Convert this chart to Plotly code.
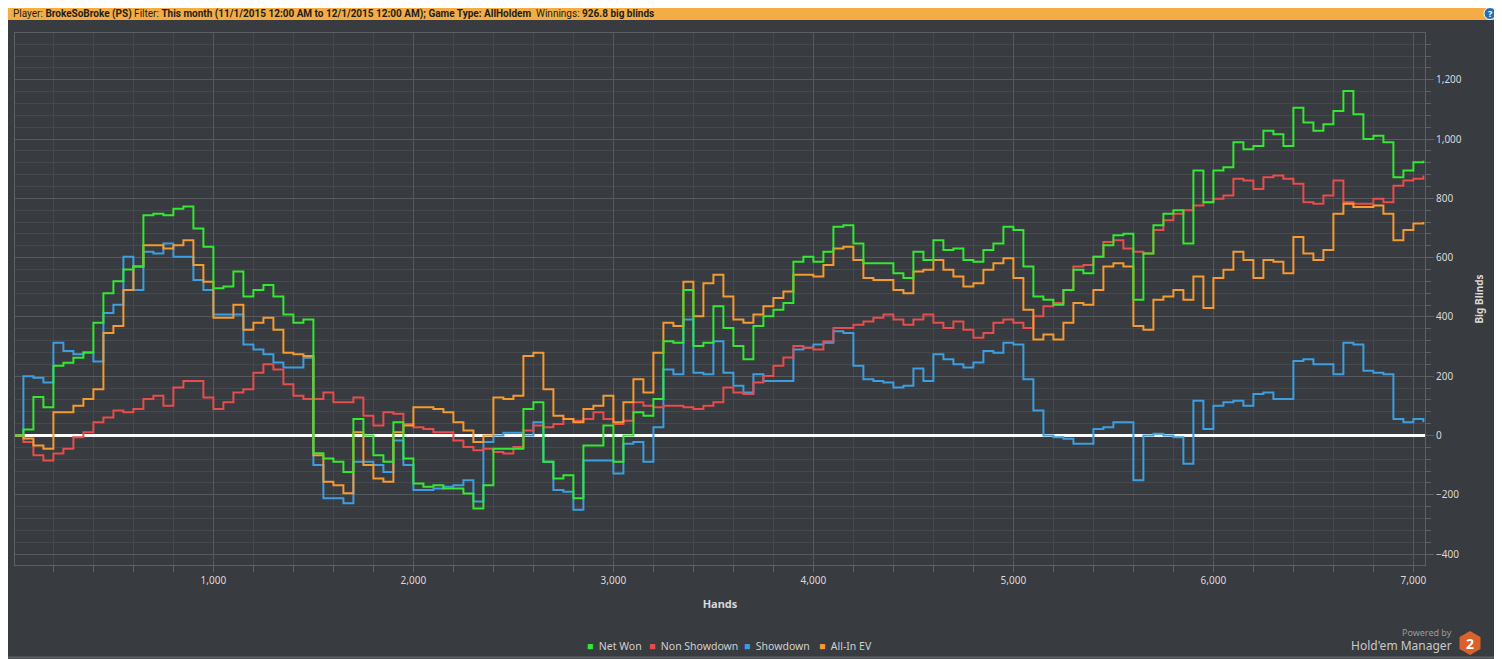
import plotly.graph_objects as go

# hands sampled every 50 hands
hands = list(range(0, 7051, 50))

net_won = [
    0, 20, 130, 95, 235, 245, 262, 280, 380, 480,
    520, 560, 570, 743, 748, 743, 765, 773, 698, 637,
    497, 503, 553, 469, 491, 508, 469, 408, 380, 391,
    -60, -78, -89, -123, 56, 0, -67, -89, 45, -78,
    -162, -173, -168, -179, -179, -196, -246, -168, -45, -45,
    -45, 89, 112, -89, -145, -134, -212, -34, -34, 34,
    -89, 0, 78, 67, 123, 318, 313, 491, 302, 313,
    436, 363, 302, 257, 369, 402, 424, 447, 586, 603,
    586, 620, 704, 709, 648, 581, 581, 581, 547, 531,
    620, 592, 659, 626, 631, 592, 586, 626, 648, 704,
    693, 570, 469, 458, 441, 491, 559, 547, 603, 642,
    676, 681, 458, 614, 709, 748, 760, 648, 894, 787,
    894, 905, 989, 966, 977, 1028, 1016, 977, 1106, 1056,
    1028, 1050, 1095, 1162, 1084, 1000, 1011, 989, 871, 894,
    922, 927,
]

non_showdown = [
    0, -22, -67, -84, -61, -45, -6, 11, 45, 61,
    84, 78, 89, 123, 134, 100, 162, 184, 184, 128,
    89, 112, 145, 156, 212, 240, 223, 173, 134, 123,
    123, 145, 112, 112, 128, 67, 34, 78, 73, 39,
    28, 22, 11, 11, -17, -39, -50, -45, -56, -61,
    -39, 17, 34, 28, 39, 56, 50, 56, 78, 56,
    39, 50, 112, 100, 95, 100, 100, 95, 89, 100,
    112, 162, 145, 140, 179, 201, 235, 263, 302, 296,
    290, 318, 363, 363, 374, 385, 397, 408, 391, 374,
    391, 408, 380, 363, 385, 357, 330, 346, 380, 391,
    380, 363, 402, 436, 447, 491, 570, 575, 603, 653,
    659, 631, 620, 614, 693, 726, 748, 760, 776, 787,
    799, 810, 866, 860, 832, 871, 877, 866, 849, 787,
    782, 810, 860, 787, 782, 782, 799, 787, 843, 860,
    866, 877,
]

showdown = [
    0, 200, 195, 179, 313, 285, 274, 280, 250, 413,
    441, 603, 491, 620, 614, 648, 603, 603, 525, 491,
    408, 408, 408, 307, 290, 274, 246, 229, 229, 262,
    -100, -212, -212, -229, -89, -89, -100, -123, -17, -100,
    -184, -184, -179, -173, -168, -151, -223, -22, 0, 9,
    9, 0, 45, -89, -184, -190, -251, -84, -84, -84,
    -128, -28, -22, -89, 28, 223, 207, 391, 212, 207,
    318, 212, 168, 145, 207, 184, 184, 184, 290, 296,
    307, 313, 352, 346, 235, 190, 184, 179, 162, 168,
    226, 184, 274, 257, 240, 229, 246, 285, 279, 313,
    307, 190, 84, 0, -6, -11, -28, -28, 22, 28,
    45, 45, -151, 0, 6, 0, -6, -95, 117, 22,
    100, 112, 117, 100, 140, 145, 123, 123, 251, 257,
    240, 240, 207, 313, 307, 218, 212, 207, 56, 45,
    56, 45,
]

all_in_ev = [
    0, -10, -34, -45, 78, 78, 100, 123, 156, 346,
    369, 491, 570, 642, 642, 631, 642, 659, 575, 519,
    397, 397, 441, 357, 380, 397, 357, 279, 274, 268,
    -67, -156, -168, -195, 11, -100, -145, -156, 11, 34,
    95, 95, 89, 78, 45, 17, -22, 0, 128, 123,
    134, 268, 279, 156, 67, 56, 45, 89, 100, 134,
    45, 112, 190, 145, 279, 380, 369, 519, 402, 514,
    542, 469, 391, 380, 408, 436, 464, 486, 542, 542,
    536, 575, 631, 637, 592, 531, 525, 525, 491, 480,
    553, 559, 592, 559, 536, 503, 514, 559, 581, 598,
    531, 424, 324, 341, 324, 380, 447, 441, 491, 570,
    581, 570, 369, 357, 458, 469, 491, 458, 536, 430,
    531, 559, 620, 592, 531, 592, 586, 547, 670, 614,
    592, 626, 748, 782, 771, 771, 776, 748, 659, 693,
    715, 720,
]

series = [
    ("Net Won", net_won, "#33e833"),
    ("Non Showdown", non_showdown, "#e84c4c"),
    ("Showdown", showdown, "#3c9ee0"),
    ("All-In EV", all_in_ev, "#f39a30"),
]

# the page puts the figure 8px in from the top-left corner
OFF = 8
W, H = 1502 - OFF, 659 - OFF
L, R, T, B = 15 - OFF, 77, 33 - OFF, 94
BG = "#383b3f"
pw, ph = W - L - R, H - T - B


# positions below are screen pixels of the reference
def px(x):
    return (x - OFF - L) / pw


def py(y):
    return (H - B - (y - OFF)) / ph


fig = go.Figure()

# draw order: blue, red, orange, green on top
for idx in [2, 1, 3, 0]:
    name, vals, col = series[idx]
    fig.add_trace(go.Scatter(
        x=hands, y=vals, name=name, mode="lines", line_shape="hv",
        line=dict(color=col, width=2), showlegend=False,
    ))

hex_pts = [(1470, 631), (1480.5, 637), (1480.5, 649), (1470, 655), (1459.5, 649), (1459.5, 637)]
hex_path = "M " + " L ".join(f"{px(x)},{py(y)}" for x, y in hex_pts) + " Z"

annotations = [
    dict(xref="paper", yref="paper", x=px(11), y=py(13.5), xanchor="left", yanchor="middle",
         showarrow=False, font=dict(size=10, color="#1e1e1e", family="Roboto, sans-serif"),
         text="Player: <b>BrokeSoBroke (PS)</b> Filter: <b>This month (11/1/2015 12:00 AM to "
              "12/1/2015 12:00 AM); Game Type: AllHoldem</b>  Winnings: <b>926.8 big blinds</b>"),
    dict(xref="paper", yref="paper", x=px(1490), y=py(13.5), xanchor="center", yanchor="middle",
         showarrow=False, text="<b>?</b>", font=dict(size=9, color="#ffffff")),
    dict(xref="paper", yref="paper", x=px(1454), y=py(632), xanchor="right", yanchor="middle",
         showarrow=False, text="Powered by", font=dict(size=9, color="#9a9a9a")),
    dict(xref="paper", yref="paper", x=px(1454), y=py(645), xanchor="right", yanchor="middle",
         showarrow=False, text="Hold'em Manager", font=dict(size=12, color="#c8c8c8")),
    dict(xref="paper", yref="paper", x=px(1470), y=py(643), xanchor="center", yanchor="middle",
         showarrow=False, text="<b>2</b>", font=dict(size=14, color="#ffffff")),
]

# legend row: coloured square + name
legend_x = [585, 647, 742, 817]
for (name, vals, col), lx in zip(series, legend_x):
    annotations.append(dict(
        xref="paper", yref="paper", x=px(lx), y=py(646), xanchor="left", yanchor="middle",
        showarrow=False, font=dict(size=10.5, color="#cfcfcf"),
        text=f'<span style="color:{col}">■</span>  {name}',
    ))

fig.update_layout(
    width=W, height=H,
    margin=dict(l=L, r=R, t=T, b=B),
    paper_bgcolor=BG, plot_bgcolor=BG,
    font=dict(family="Noto Sans, Open Sans, sans-serif", size=10, color="#d8d8d8"),
    showlegend=False,
    xaxis=dict(
        range=[8, 7058],
        tickvals=[1000, 2000, 3000, 4000, 5000, 6000, 7000],
        tickformat=",d",
        ticks="outside", ticklen=6, tickcolor="#5c5f63",
        showgrid=True, gridcolor="#56595d", gridwidth=1,
        minor=dict(dtick=200, tick0=0, showgrid=True, gridcolor="#45484c",
                   ticks="outside", ticklen=6, tickcolor="#5c5f63"),
        showline=True, linecolor="#5c5f63", mirror=True,
        zeroline=False, automargin=False,
        title=dict(text="<b>Hands</b>", font=dict(size=11, color="#d8d8d8"), standoff=14),
    ),
    yaxis=dict(
        side="right",
        range=[-437, 1358],
        tickvals=[-400, -200, 0, 200, 400, 600, 800, 1000, 1200],
        tickformat=",d",
        ticks="outside", ticklen=8, tickcolor="#5c5f63",
        showgrid=True, gridcolor="#56595d", gridwidth=1,
        minor=dict(dtick=40, tick0=0, showgrid=True, gridcolor="#45484c",
                   ticks="outside", ticklen=5, tickcolor="#5c5f63"),
        showline=True, linecolor="#5c5f63", mirror=True,
        zeroline=True, zerolinecolor="#ffffff", zerolinewidth=3,
        automargin=False,
        title=dict(text="<b>Big Blinds</b>", font=dict(size=10, color="#d8d8d8"), standoff=15),
    ),
    shapes=[
        dict(type="rect", xref="paper", yref="paper", x0=px(0), x1=px(1502), y0=py(20), y1=py(0),
             fillcolor="#f4ad45", line=dict(width=0), layer="below"),
        dict(type="circle", xref="paper", yref="paper", x0=px(1484), x1=px(1496), y0=py(19.5), y1=py(7.5),
             fillcolor="#1e6fb8", line=dict(color="#ffffff", width=1)),
        dict(type="line", xref="paper", yref="paper", x0=px(0), x1=px(1502), y0=py(657.5), y1=py(657.5),
             line=dict(color="#5d6064", width=2)),
        dict(type="path", xref="paper", yref="paper", path=hex_path,
             fillcolor="#d9622b", line=dict(width=0)),
    ],
    annotations=annotations,
)

fig.write_html("out.html")
